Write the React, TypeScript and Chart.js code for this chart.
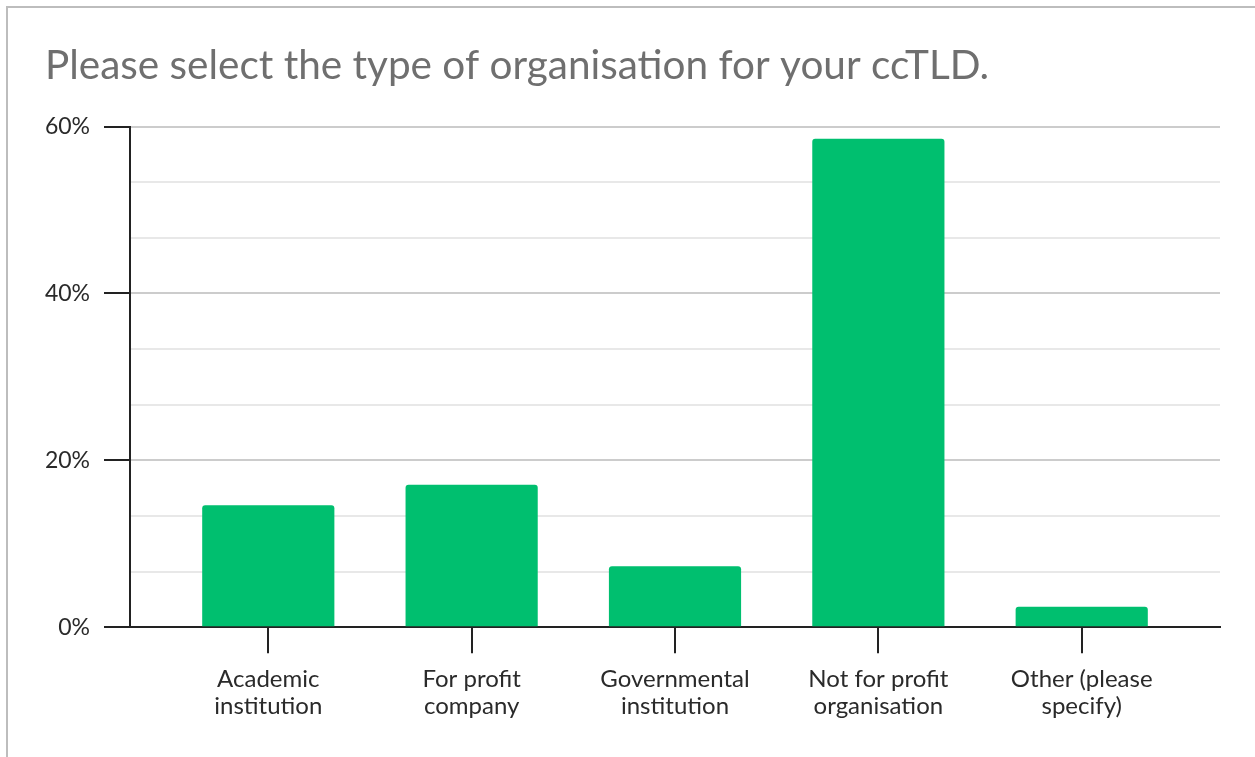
import React, { useEffect, useRef } from "react";
import { Chart, registerables } from "chart.js";

Chart.register(...registerables);

const titleText = "Please select the type of organisation for your ccTLD.";
const categories: string[][] = [
  ["Academic", "institution"],
  ["For profit", "company"],
  ["Governmental", "institution"],
  ["Not for profit", "organisation"],
  ["Other (please", "specify)"],
];
const values: number[] = [14.63, 17.07, 7.32, 58.54, 2.44];
const yMajorTicks: number[] = [0, 20, 40, 60];
const yMinorStep = 20 / 3;
const yMax = 60;

const isMajor = (v: number) => yMajorTicks.some((m) => Math.abs(m - v) < 1e-6);

export default function App() {
  const ref = useRef<HTMLCanvasElement | null>(null);

  useEffect(() => {
    if (!ref.current) return;
    const font = "Lato, 'Open Sans', sans-serif";
    const chart = new Chart(ref.current, {
      type: "bar",
      data: {
        datasets: [
          {
            data: values.map((v, i) => ({ x: i, y: v })),
            backgroundColor: "#00BF6F",
            borderRadius: 3,
            borderSkipped: "start",
            barPercentage: 0.65,
            categoryPercentage: 1,
          },
        ],
      },
      options: {
        responsive: false,
        animation: false,
        layout: { padding: { left: 45, right: 35, top: 0, bottom: 25 } },
        plugins: {
          legend: { display: false },
          tooltip: { enabled: false },
          title: {
            display: true,
            text: titleText,
            align: "start",
            color: "#6f6f6f",
            font: { family: font, size: 40.5, weight: "normal", lineHeight: 1.2 },
            padding: { top: 42, bottom: 36 },
          },
        },
        scales: {
          x: {
            type: "linear",
            offset: false,
            min: -0.68,
            max: 4.68,
            afterBuildTicks: (scale: any) => {
              scale.ticks = categories.map((_, i) => ({ value: i }));
            },
            ticks: {
              autoSkip: false,
              maxRotation: 0,
              padding: 13,
              color: "#2a2a2a",
              font: { family: font, size: 24, lineHeight: 1.1 },
              callback: (v: any) => categories[Math.round(Number(v))] ?? "",
            },
            grid: {
              display: true,
              offset: false,
              drawOnChartArea: false,
              drawTicks: true,
              tickLength: 26,
              tickColor: "#222",
              tickWidth: 2,
              lineWidth: 2,
              color: "#222",
            },
            border: { display: true, color: "#222", width: 2 },
          },
          y: {
            min: 0,
            max: yMax,
            afterBuildTicks: (scale: any) => {
              const t = [];
              for (let v = 0; v <= yMax + 1e-6; v += yMinorStep) t.push({ value: v });
              scale.ticks = t;
            },
            afterFit: (scale: any) => {
              scale.width = 85;
            },
            ticks: {
              autoSkip: false,
              padding: 14,
              color: "#2a2a2a",
              font: { family: font, size: 23 },
              callback: (v: any) => (isMajor(Number(v)) ? Math.round(Number(v)) + "%" : ""),
            },
            grid: {
              drawTicks: true,
              tickLength: 26,
              tickWidth: 2,
              lineWidth: 2,
              color: (ctx: any) => (isMajor(ctx.tick?.value ?? 0) ? "#cccccc" : "#e8e8e8"),
              tickColor: (ctx: any) => (isMajor(ctx.tick?.value ?? 0) ? "#222" : "rgba(0,0,0,0)"),
            },
            border: { display: true, color: "#222", width: 2 },
          },
        },
      },
    } as any);
    return () => chart.destroy();
  }, []);

  return (
    <div style={{ position: "fixed", inset: 0, overflow: "hidden", background: "#fff" }}>
      <div
        style={{
          position: "absolute",
          left: 6,
          top: 6,
          width: 1400,
          height: 1000,
          border: "2px solid #bdbdbd",
        }}
      />
      <canvas
        ref={ref}
        width={1255}
        height={757}
        style={{ position: "absolute", left: 0, top: 0 }}
      />
    </div>
  );
}
